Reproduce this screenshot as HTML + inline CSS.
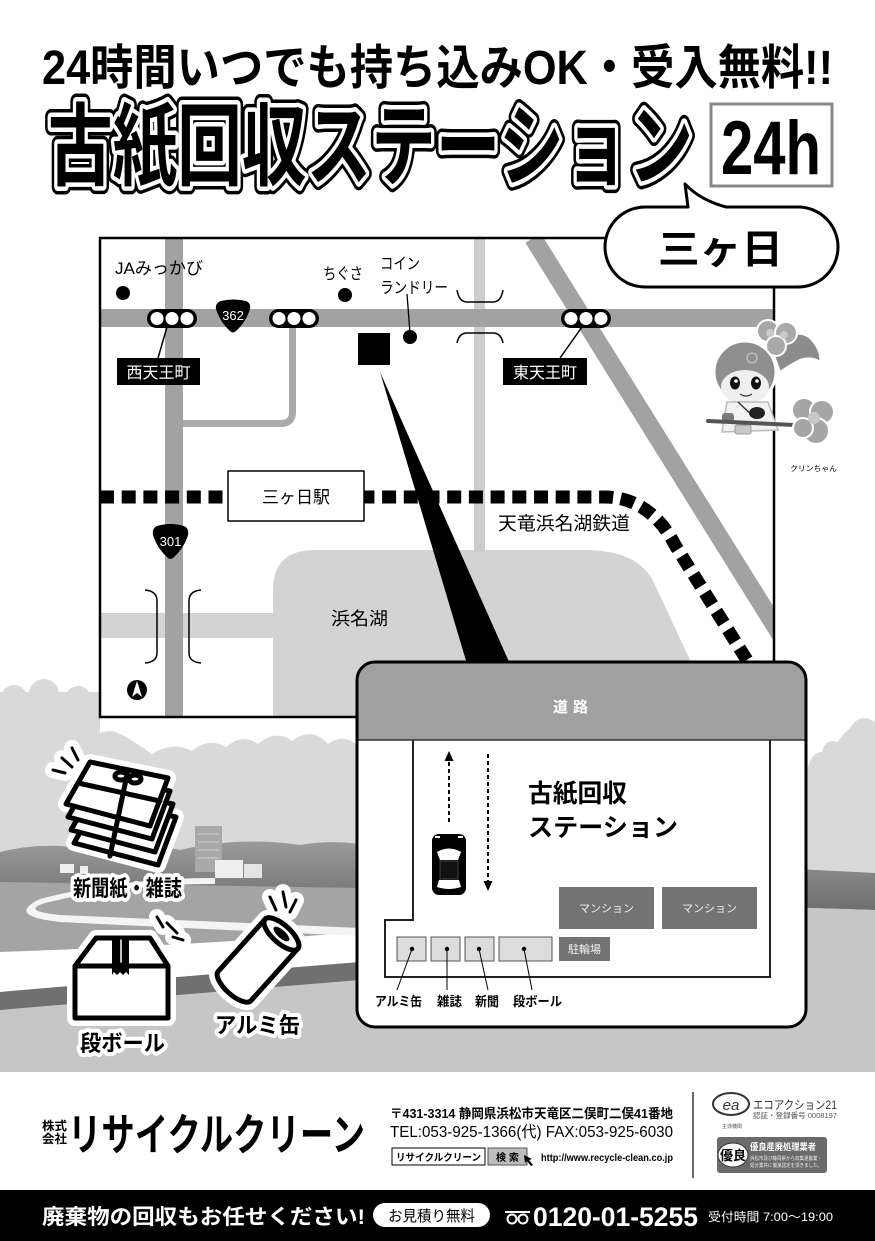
<!DOCTYPE html>
<html><head><meta charset="utf-8"><style>
html,body{margin:0;padding:0;background:#fff;}
svg{display:block;}
text{font-family:"Liberation Sans","Noto Sans CJK JP",sans-serif;}
</style></head><body>
<svg width="875" height="1241" viewBox="0 0 875 1241" xmlns="http://www.w3.org/2000/svg">
<defs>
<clipPath id="mapclip"><rect x="100" y="238" width="674" height="479"/></clipPath>
<linearGradient id="hill" x1="0" y1="0" x2="0" y2="1"><stop offset="0" stop-color="#9a9a9a"/><stop offset="1" stop-color="#6e6e6e"/></linearGradient>
</defs>
<rect width="875" height="1241" fill="#fff"/>

<!-- ===== landscape ===== -->
<rect x="0" y="692" width="875" height="200" fill="#d9d9d9"/>
<circle cx="14" cy="698" r="13" fill="#d9d9d9"/>
<circle cx="44" cy="694" r="15" fill="#d9d9d9"/>
<circle cx="78" cy="699" r="13" fill="#d9d9d9"/>
<path d="M100,717 H357 V745 Q343,733 328,744 Q312,726 292,741 Q276,729 258,744 Q242,733 226,747 Q208,737 192,751 Q172,741 152,754 Q138,744 124,736 Q112,728 100,733 Z" fill="#fff"/>
<path d="M806,640 H875 V722 Q860,712 850,728 Q842,735 838,742 Q825,738 822,752 Q812,752 808,767 L806,767 Z" fill="#fff"/>
<path d="M0,852 Q40,842 80,848 Q130,838 180,850 Q240,836 300,845 Q340,838 380,848 L875,873 L875,910 L0,884 Z" fill="url(#hill)"/>
<path d="M0,882 L875,910 L875,1072 L0,1072 Z" fill="#c6c6c6"/>
<path d="M0,882 L360,888 L360,935 Q200,945 0,952 Z" fill="#a4a4a4"/>
<path d="M0,952 Q200,945 360,932 L360,962 Q200,975 0,992 Z" fill="#fff"/>
<path d="M0,992 Q200,975 360,962 L360,980 Q200,993 0,1010 Z" fill="#707070"/>
<path d="M215,884 Q120,884 45,903 Q20,911 60,915 Q200,921 360,928 L360,936 Q200,929 60,922 Q5,916 40,899 Q120,878 215,878 Z" fill="#f4f4f4"/>
<rect x="195" y="826" width="27" height="46" fill="#a9a9a9"/>
<g stroke="#cfcfcf" stroke-width="1"><line x1="198" y1="834" x2="219" y2="834"/><line x1="198" y1="842" x2="219" y2="842"/><line x1="198" y1="850" x2="219" y2="850"/><line x1="198" y1="858" x2="219" y2="858"/></g>
<rect x="215" y="860" width="28" height="18" fill="#eee"/>
<rect x="244" y="864" width="18" height="14" fill="#e4e4e4"/>
<rect x="60" y="864" width="14" height="9" fill="#eee"/>
<rect x="80" y="866" width="8" height="8" fill="#eee"/>

<!-- ===== header ===== -->
<text x="42" y="84" font-size="48" font-weight="bold" textLength="791" lengthAdjust="spacingAndGlyphs" fill="#000">24時間いつでも持ち込みOK・受入無料!!</text>
<g font-size="90" font-weight="bold">
<text x="48" y="178" textLength="645" lengthAdjust="spacingAndGlyphs" fill="#000" stroke="#000" stroke-width="16" stroke-linejoin="round">古紙回収ステーション</text>
<text x="48" y="178" textLength="645" lengthAdjust="spacingAndGlyphs" fill="#000" stroke="#fff" stroke-width="9" stroke-linejoin="round">古紙回収ステーション</text>
<text x="48" y="178" textLength="645" lengthAdjust="spacingAndGlyphs" fill="#000">古紙回収ステーション</text>
</g>
<rect x="711" y="104" width="121" height="82" fill="#fff" stroke="#888" stroke-width="3"/>
<text x="721" y="174" font-size="76" font-weight="bold" textLength="100" lengthAdjust="spacingAndGlyphs" fill="#000">24h</text>

<!-- ===== map ===== -->
<rect x="100" y="238" width="674" height="479" fill="#fff"/>
<g clip-path="url(#mapclip)">
 <path d="M273,717 L273,590 Q273,550 315,550 L585,550 Q640,550 655,585 L690,660 L705,717 Z" fill="#d3d3d3"/>
 <rect x="100" y="613" width="175" height="25" fill="#d3d3d3"/>
 <rect x="474" y="238" width="11" height="314" fill="#cdcdcd"/>
 <line x1="533" y1="238" x2="790" y2="650" stroke="#a2a2a2" stroke-width="18"/>
 <rect x="100" y="309" width="674" height="18" fill="#a2a2a2"/>
 <rect x="165" y="238" width="18" height="479" fill="#a2a2a2"/>
 <path d="M292.5,327 V412 Q292.5,423.5 281,423.5 H183" fill="none" stroke="#aaa" stroke-width="7"/>
 <path d="M100,497 L605,497 C635,497 660,515 675,545 L755,673" fill="none" stroke="#000" stroke-width="13" stroke-dasharray="14 7.7"/>
</g>
<!-- bridges -->
<g fill="none" stroke="#000" stroke-width="1.5">
 <path d="M457,290 Q459,302 467,302 L493,302 Q501,302 503,290"/>
 <path d="M457,343 Q459,333 467,333 L493,333 Q501,333 503,343"/>
 <path d="M145,590 Q157,591 157,601 L157,653 Q157,662 145,663"/>
 <path d="M201,590 Q189,591 189,601 L189,653 Q189,662 201,663"/>
</g>
<!-- station -->
<rect x="228" y="471" width="136" height="50" fill="#fff" stroke="#000" stroke-width="1.5"/>
<text x="296" y="503" font-size="17" text-anchor="middle" fill="#000">三ヶ日駅</text>
<text x="498" y="530" font-size="18.5" textLength="132" lengthAdjust="spacingAndGlyphs" fill="#000">天竜浜名湖鉄道</text>
<text x="331" y="625" font-size="18" textLength="57" lengthAdjust="spacingAndGlyphs" fill="#000">浜名湖</text>
<!-- shields -->
<path d="M221,301 Q233,298 246,301 Q251,303 250,309 Q246,322 236,331 Q233,334 230,331 Q220,322 216,309 Q215,303 221,301 Z" fill="#000"/>
<text x="233" y="320" font-size="13" text-anchor="middle" fill="#fff">362</text>
<path d="M157,526 Q170.5,522 184,526 Q189,528 188,535 Q184,548 174,557 Q170.5,561 167,557 Q157,548 153,535 Q152,528 157,526 Z" fill="#000"/>
<text x="170.5" y="546" font-size="13" text-anchor="middle" fill="#fff">301</text>
<!-- traffic lights -->
<g>
 <rect x="147" y="309" width="50" height="19" rx="9.5" fill="#000"/>
 <circle cx="157" cy="318.5" r="6.5" fill="#fff"/><circle cx="172" cy="318.5" r="6.5" fill="#fff"/><circle cx="187" cy="318.5" r="6.5" fill="#fff"/>
 <rect x="269" y="309" width="50" height="19" rx="9.5" fill="#000"/>
 <circle cx="279" cy="318.5" r="6.5" fill="#fff"/><circle cx="294" cy="318.5" r="6.5" fill="#fff"/><circle cx="309" cy="318.5" r="6.5" fill="#fff"/>
 <rect x="561" y="309" width="50" height="19" rx="9.5" fill="#000"/>
 <circle cx="571" cy="318.5" r="6.5" fill="#fff"/><circle cx="586" cy="318.5" r="6.5" fill="#fff"/><circle cx="601" cy="318.5" r="6.5" fill="#fff"/>
</g>
<line x1="167" y1="327" x2="158" y2="358" stroke="#000" stroke-width="1.5"/>
<line x1="582" y1="327" x2="560" y2="358" stroke="#000" stroke-width="1.5"/>
<rect x="117" y="358" width="83" height="27" fill="#000"/>
<text x="158.5" y="378" font-size="16" text-anchor="middle" fill="#fff">西天王町</text>
<rect x="503" y="358" width="84" height="27" fill="#000"/>
<text x="545" y="378" font-size="16" text-anchor="middle" fill="#fff">東天王町</text>
<!-- POIs -->
<text x="115" y="274" font-size="17" textLength="88" lengthAdjust="spacingAndGlyphs" fill="#000">JAみっかび</text>
<circle cx="123" cy="293" r="7" fill="#000"/>
<text x="323" y="279" font-size="16" textLength="40" lengthAdjust="spacingAndGlyphs" fill="#000">ちぐさ</text>
<circle cx="345" cy="295" r="7" fill="#000"/>
<text x="380" y="269" font-size="16" textLength="40" lengthAdjust="spacingAndGlyphs" fill="#000">コイン</text>
<text x="380" y="293" font-size="16" textLength="68" lengthAdjust="spacingAndGlyphs" fill="#000">ランドリー</text>
<line x1="407" y1="294" x2="410" y2="333" stroke="#000" stroke-width="1.3"/>
<circle cx="410" cy="337" r="7" fill="#000"/>
<rect x="358" y="333" width="32" height="32" fill="#000"/>
<!-- north arrow -->
<circle cx="137" cy="690" r="10" fill="#000"/>
<polygon points="137,681 132,697 137,693 142,697" fill="#fff"/>
<!-- map border -->
<rect x="100" y="238" width="674" height="479" fill="none" stroke="#000" stroke-width="2.5"/>
<!-- wedge -->
<polygon points="380,372 467,664 510,664" fill="#000"/>

<!-- bubble -->
<path d="M645,207 H688 L685,184 Q700,200 726,207 H798 A40,40 0 0 1 798,287 H645 A40,40 0 0 1 645,207 Z" fill="#fff" stroke="#000" stroke-width="3" stroke-linejoin="round"/>
<text x="658" y="263" font-size="40" font-weight="bold" textLength="125" lengthAdjust="spacingAndGlyphs" fill="#000">三ヶ日</text>

<!-- character -->
<g>
 <path d="M770,345 Q800,325 812,340 Q822,352 820,362 Q812,356 800,360 Q790,365 780,372 Z" fill="#8c8c8c" stroke="#fff" stroke-width="2"/>
 <circle cx="745" cy="372" r="31" fill="#8f8f8f" stroke="#fff" stroke-width="3"/>
 <g fill="#a9a9a9" stroke="#fff" stroke-width="2">
  <circle cx="768" cy="331" r="11"/><circle cx="786" cy="333" r="11"/><circle cx="776" cy="346" r="10"/>
 </g>
 <circle cx="770" cy="333" r="4" fill="#c9c9c9"/><circle cx="784" cy="335" r="4" fill="#c9c9c9"/>
 <ellipse cx="745" cy="387" rx="24" ry="17" fill="#efefef"/>
 <ellipse cx="735" cy="383" rx="5" ry="6.5" fill="#111"/>
 <ellipse cx="756" cy="383" rx="5" ry="6.5" fill="#111"/>
 <circle cx="736" cy="381" r="1.8" fill="#fff"/><circle cx="757" cy="381" r="1.8" fill="#fff"/>
 <path d="M740,394 Q746,398 752,394" fill="none" stroke="#333" stroke-width="1.2"/>
 <circle cx="752" cy="358" r="5" fill="none" stroke="#bbb" stroke-width="1.5"/>
 <path d="M727,402 L768,402 L778,430 L722,432 Z" fill="#f2f2f2" stroke="#bbb" stroke-width="1.5"/>
 <path d="M738,402 L755,418" stroke="#333" stroke-width="1.5"/>
 <ellipse cx="757" cy="413" rx="8" ry="6" fill="#222"/>
 <rect x="722" y="413" width="12" height="10" rx="3" fill="#7a7a7a"/>
 <rect x="735" y="425" width="16" height="9" rx="2" fill="#c9c9c9" stroke="#999" stroke-width="1"/>
 <line x1="708" y1="421" x2="795" y2="425" stroke="#555" stroke-width="4" stroke-linecap="round"/>
 <g fill="#a6a6a6" stroke="#fff" stroke-width="2">
  <circle cx="804" cy="410" r="12"/><circle cx="822" cy="412" r="12"/><circle cx="816" cy="431" r="13"/><circle cx="803" cy="428" r="10"/>
 </g>
 <circle cx="814" cy="418" r="6" fill="#c8c8c8"/>
</g>
<text x="790" y="471" font-size="7.5" textLength="47" lengthAdjust="spacingAndGlyphs" fill="#000">クリンちゃん</text>

<!-- ===== inset ===== -->
<rect x="357" y="662" width="449" height="365" rx="18" fill="#fff"/>
<path d="M357,740 V680 Q357,662 375,662 H788 Q806,662 806,680 V740 Z" fill="#a0a0a0"/>
<line x1="357" y1="740" x2="806" y2="740" stroke="#333" stroke-width="1.5"/>
<text x="573" y="712" font-size="15" font-weight="bold" text-anchor="middle" fill="#fff" letter-spacing="5">道路</text>
<path d="M413,740 V920 H385 V977 H770 V740" fill="none" stroke="#222" stroke-width="2"/>
<rect x="357" y="662" width="449" height="365" rx="18" fill="none" stroke="#000" stroke-width="3"/>
<!-- arrows -->
<line x1="449" y1="822" x2="449" y2="760" stroke="#000" stroke-width="2" stroke-dasharray="4 3"/>
<polygon points="449,751 444.5,761 453.5,761" fill="#000"/>
<line x1="488" y1="754" x2="488" y2="882" stroke="#000" stroke-width="2" stroke-dasharray="4 3"/>
<polygon points="488,891 483.5,881 492.5,881" fill="#000"/>
<!-- car -->
<rect x="432" y="834" width="34" height="61" rx="7" fill="#000"/>
<path d="M437,852 Q449,845 461,852 L458,860 L440,860 Z" fill="#fff"/>
<path d="M439,880 L459,880 L461,887 Q449,891 437,887 Z" fill="#fff"/>
<rect x="440" y="861" width="18" height="18" fill="#111" stroke="#444" stroke-width="1"/>
<rect x="435" y="836" width="5" height="2" fill="#fff"/><rect x="458" y="836" width="5" height="2" fill="#fff"/>
<text x="528" y="802" font-size="25" font-weight="bold" textLength="99" lengthAdjust="spacingAndGlyphs" fill="#000">古紙回収</text>
<text x="528" y="836" font-size="25" font-weight="bold" textLength="150" lengthAdjust="spacingAndGlyphs" fill="#000">ステーション</text>
<rect x="559" y="887" width="95" height="42" fill="#737373"/>
<rect x="662" y="887" width="95" height="42" fill="#737373"/>
<text x="606.5" y="912" font-size="11" text-anchor="middle" fill="#f0f0f0">マンション</text>
<text x="709.5" y="912" font-size="11" text-anchor="middle" fill="#f0f0f0">マンション</text>
<rect x="559" y="937" width="51" height="24" fill="#737373"/>
<text x="584.5" y="953" font-size="11" text-anchor="middle" fill="#f0f0f0">駐輪場</text>
<g fill="#dcdcdc" stroke="#555" stroke-width="1">
 <rect x="397" y="937" width="29" height="24"/><rect x="431" y="937" width="29" height="24"/>
 <rect x="465" y="937" width="29" height="24"/><rect x="499" y="937" width="53" height="24"/>
</g>
<g fill="#000"><circle cx="412" cy="949" r="2.2"/><circle cx="447" cy="949" r="2.2"/><circle cx="479" cy="949" r="2.2"/><circle cx="524" cy="949" r="2.2"/></g>
<g stroke="#000" stroke-width="1">
 <line x1="412" y1="949" x2="397" y2="990"/><line x1="447" y1="949" x2="447" y2="990"/>
 <line x1="479" y1="949" x2="488" y2="990"/><line x1="524" y1="949" x2="532" y2="990"/>
</g>
<g font-size="13" font-weight="bold" fill="#000">
 <text x="375" y="1006" textLength="47" lengthAdjust="spacingAndGlyphs">アルミ缶</text>
 <text x="437" y="1006" textLength="25" lengthAdjust="spacingAndGlyphs">雑誌</text>
 <text x="475" y="1006" textLength="24" lengthAdjust="spacingAndGlyphs">新聞</text>
 <text x="513" y="1006" textLength="49" lengthAdjust="spacingAndGlyphs">段ボール</text>
</g>

<!-- ===== icons ===== -->
<!-- newspapers -->
<g stroke-linejoin="round" stroke-linecap="round">
 <g fill="#fff" stroke="#fff" stroke-width="16">
  <polygon points="98,801 176,817 158,865 74,843"/>
  <polygon points="90,762 168,778 150,826 66,804"/>
  <line x1="53" y1="770" x2="65" y2="773"/><line x1="62" y1="758" x2="72" y2="767"/><line x1="72" y1="748" x2="78" y2="760"/>
 </g>
 <g fill="#fff" stroke="#000" stroke-width="5">
  <polygon points="98,801 176,817 158,865 74,843"/>
  <polygon points="95,788 173,804 155,852 71,830"/>
  <polygon points="92,775 170,791 152,839 68,817"/>
  <polygon points="90,762 168,778 150,826 66,804"/>
 </g>
 <g stroke="#000" stroke-width="5" fill="none">
  <line x1="128" y1="770" x2="110" y2="856"/>
  <line x1="78" y1="783" x2="160" y2="801"/>
  <ellipse cx="121" cy="776" rx="6" ry="4"/><ellipse cx="135" cy="779" rx="6" ry="4"/>
 </g>
 <g stroke="#000" stroke-width="3">
  <line x1="53" y1="770" x2="65" y2="773"/><line x1="62" y1="758" x2="72" y2="767"/><line x1="72" y1="748" x2="78" y2="760"/>
 </g>
</g>
<!-- box -->
<g stroke-linejoin="round" stroke-linecap="round">
 <g fill="#fff" stroke="#fff" stroke-width="16">
  <polygon points="75,966 96,938 150,938 168,966 168,1018 75,1018"/>
  <line x1="157" y1="917" x2="163" y2="927"/><line x1="167" y1="923" x2="177" y2="933"/><line x1="173" y1="937" x2="183" y2="940"/>
 </g>
 <rect x="75" y="966" width="93" height="52" fill="#fff" stroke="#000" stroke-width="5"/>
 <polygon points="75,966 96,938 150,938 168,966" fill="#fff" stroke="#000" stroke-width="5"/>
 <path d="M112,938 H129 V975 L126,972 L123,975 L120,972 L117,975 L114,972 L112,975 Z" fill="#000"/>
 <line x1="121" y1="940" x2="121" y2="962" stroke="#fff" stroke-width="1.5"/>
 <g stroke="#000" stroke-width="3">
  <line x1="157" y1="917" x2="163" y2="927"/><line x1="167" y1="923" x2="177" y2="933"/><line x1="173" y1="937" x2="183" y2="940"/>
 </g>
</g>
<!-- can -->
<g stroke-linejoin="round" stroke-linecap="round">
 <g stroke="#fff" stroke-width="16" fill="#fff">
  <line x1="270" y1="897" x2="276" y2="910"/><line x1="283" y1="892" x2="286" y2="907"/><line x1="296" y1="900" x2="290" y2="912"/>
 </g>
 <g transform="translate(258,960) rotate(-48)">
  <path d="M-35,-22 H35 A9,22 0 0 1 35,22 H-35 A9,22 0 0 1 -35,-22 Z" fill="#fff" stroke="#fff" stroke-width="16"/>
  <path d="M-35,-22 H35 A9,22 0 0 1 35,22 H-35 A9,22 0 0 1 -35,-22 Z" fill="#fff" stroke="#000" stroke-width="5"/>
  <ellipse cx="35" cy="0" rx="9" ry="22" fill="#fff" stroke="#000" stroke-width="5"/>
  <ellipse cx="35" cy="0" rx="4" ry="10" fill="#000"/>
 </g>
 <g stroke="#000" stroke-width="3">
  <line x1="270" y1="897" x2="276" y2="910"/><line x1="283" y1="892" x2="286" y2="907"/><line x1="296" y1="900" x2="290" y2="912"/>
 </g>
</g>
<g font-size="22" font-weight="bold" stroke-linejoin="round">
 <text x="73" y="896" textLength="109" lengthAdjust="spacingAndGlyphs" fill="#fff" stroke="#fff" stroke-width="8">新聞紙・雑誌</text>
 <text x="73" y="896" textLength="109" lengthAdjust="spacingAndGlyphs" fill="#000">新聞紙・雑誌</text>
 <text x="80" y="1051" textLength="85" lengthAdjust="spacingAndGlyphs" fill="#fff" stroke="#fff" stroke-width="8">段ボール</text>
 <text x="80" y="1051" textLength="85" lengthAdjust="spacingAndGlyphs" fill="#000">段ボール</text>
 <text x="215" y="1033" textLength="85" lengthAdjust="spacingAndGlyphs" fill="#fff" stroke="#fff" stroke-width="8">アルミ缶</text>
 <text x="215" y="1033" textLength="85" lengthAdjust="spacingAndGlyphs" fill="#000">アルミ缶</text>
</g>

<!-- ===== footer ===== -->
<rect x="0" y="1072" width="875" height="118" fill="#fff"/>
<text x="42" y="1130" font-size="12" font-weight="bold" textLength="25" lengthAdjust="spacingAndGlyphs" fill="#000">株式</text>
<text x="42" y="1143" font-size="12" font-weight="bold" textLength="25" lengthAdjust="spacingAndGlyphs" fill="#000">会社</text>
<text x="68" y="1150" font-size="44" font-weight="bold" textLength="297" lengthAdjust="spacingAndGlyphs" fill="#000">リサイクルクリーン</text>
<text x="390" y="1118" font-size="13" font-weight="bold" textLength="283" lengthAdjust="spacingAndGlyphs" fill="#000">〒431-3314 静岡県浜松市天竜区二俣町二俣41番地</text>
<text x="390" y="1137" font-size="15.5" textLength="283" lengthAdjust="spacingAndGlyphs" fill="#000">TEL:053-925-1366(代) FAX:053-925-6030</text>
<rect x="392" y="1148" width="93" height="17" fill="#fff" stroke="#000" stroke-width="1"/>
<text x="396" y="1161" font-size="10" font-weight="bold" textLength="85" lengthAdjust="spacingAndGlyphs" fill="#000">リサイクルクリーン</text>
<rect x="488" y="1148" width="39" height="17" fill="#bdbdbd" stroke="#555" stroke-width="1"/>
<text x="496" y="1161" font-size="10" font-weight="bold" textLength="23" lengthAdjust="spacingAndGlyphs" fill="#000">検 索</text>
<polygon points="524,1155 532,1159 529,1160 533,1165 531,1166 527,1161 525,1163" fill="#000"/>
<text x="541" y="1161" font-size="10" font-weight="bold" textLength="132" lengthAdjust="spacingAndGlyphs" fill="#000">http://www.recycle-clean.co.jp</text>
<line x1="693" y1="1092" x2="693" y2="1178" stroke="#333" stroke-width="1.5"/>
<ellipse cx="731" cy="1104" rx="18" ry="11" fill="none" stroke="#333" stroke-width="2"/>
<text x="731" y="1110" font-size="15" font-style="italic" text-anchor="middle" fill="#333">ea</text>
<text x="722" y="1128" font-size="5" fill="#555">主導機関</text>
<text x="753" y="1109" font-size="12" textLength="84" lengthAdjust="spacingAndGlyphs" fill="#333">エコアクション21</text>
<text x="753" y="1118" font-size="7.5" textLength="84" lengthAdjust="spacingAndGlyphs" fill="#555">認証・登録番号 0008197</text>
<rect x="717" y="1137" width="110" height="36" rx="3" fill="#6a6a6a"/>
<ellipse cx="733" cy="1155" rx="15" ry="12" fill="#fff" stroke="#333" stroke-width="1"/>
<text x="733" y="1160" font-size="13" font-weight="bold" text-anchor="middle" fill="#000">優良</text>
<text x="750" y="1150" font-size="9" font-weight="bold" textLength="66" lengthAdjust="spacingAndGlyphs" fill="#fff">優良産廃処理業者</text>
<text x="750" y="1160" font-size="5" textLength="72" lengthAdjust="spacingAndGlyphs" fill="#eee">浜松市及び静岡県から収集運搬業・</text>
<text x="750" y="1167" font-size="5" textLength="72" lengthAdjust="spacingAndGlyphs" fill="#eee">処分業共に優良認定を頂きました。</text>

<rect x="0" y="1190" width="875" height="51" fill="#000"/>
<text x="42" y="1224" font-size="21" font-weight="bold" textLength="323" lengthAdjust="spacingAndGlyphs" fill="#fff">廃棄物の回収もお任せください!</text>
<rect x="373" y="1203" width="117" height="24" rx="12" fill="#fff"/>
<text x="388" y="1221" font-size="15" textLength="87" lengthAdjust="spacingAndGlyphs" fill="#000">お見積り無料</text>
<rect x="505" y="1211" width="25" height="2" fill="#fff"/>
<circle cx="512" cy="1219" r="4.5" fill="none" stroke="#fff" stroke-width="2"/>
<circle cx="523" cy="1219" r="4.5" fill="none" stroke="#fff" stroke-width="2"/>
<text x="533" y="1226" font-size="27" font-weight="bold" textLength="165" lengthAdjust="spacingAndGlyphs" fill="#fff">0120-01-5255</text>
<text x="708" y="1221" font-size="12" textLength="125" lengthAdjust="spacingAndGlyphs" fill="#fff">受付時間 7:00〜19:00</text>
</svg>
</body></html>
